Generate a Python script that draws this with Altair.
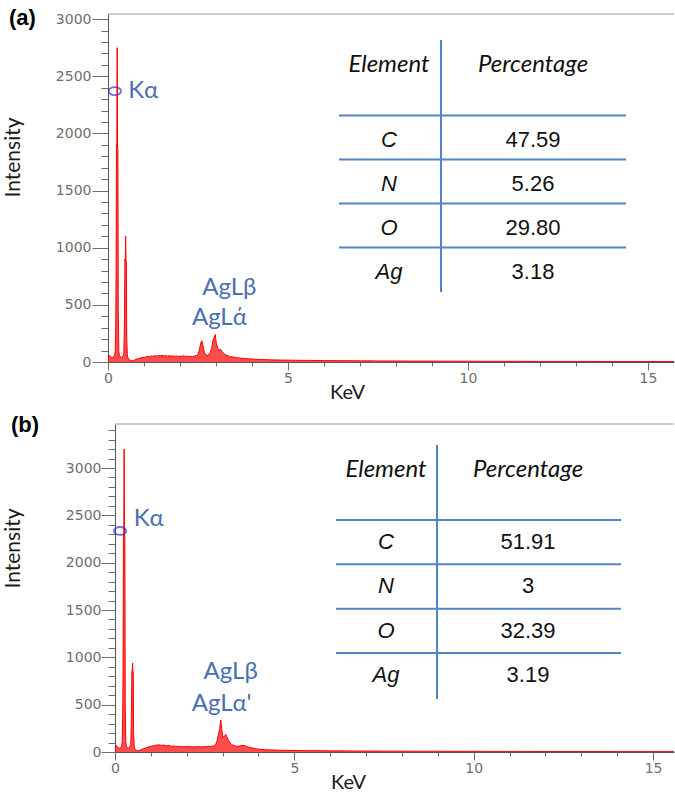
import altair as alt
import pandas as pd

# ---------------- data ----------------
energy_kev = [0.00, 0.03, 0.06, 0.09, 0.12, 0.15, 0.18, 0.20, 0.215, 0.225, 0.235, 0.245, 0.255, 0.265,
              0.275, 0.285, 0.30, 0.32, 0.35, 0.38, 0.41, 0.44, 0.455, 0.47, 0.48, 0.49, 0.50, 0.51, 0.52,
              0.535, 0.55, 0.58, 0.62, 0.66, 0.70, 0.75, 0.80, 0.85, 0.90, 0.95, 1.00, 1.05, 1.10, 1.15,
              1.20, 1.25, 1.30, 1.35, 1.40, 1.45, 1.50, 1.55, 1.60, 1.65, 1.70, 1.75, 1.80, 1.85, 1.90,
              1.95, 2.00, 2.05, 2.10, 2.15, 2.20, 2.25, 2.30, 2.35, 2.40, 2.45, 2.50, 2.54, 2.58, 2.61,
              2.64, 2.68, 2.72, 2.76, 2.80, 2.84, 2.88, 2.92, 2.95, 2.98, 3.01, 3.05, 3.09, 3.13, 3.17,
              3.21, 3.25, 3.30, 3.35, 3.40, 3.45, 3.50, 3.55, 3.60, 3.65, 3.70, 3.80, 3.90, 4.00, 4.10,
              4.20, 4.35, 4.50, 4.65, 4.80, 5.00, 5.20, 5.40, 5.60, 5.80, 6.00, 6.25, 6.50, 6.75, 7.00,
              7.25, 7.50, 7.75, 8.00, 8.25, 8.50, 8.75, 9.00, 9.25, 9.50, 9.75, 10.00, 10.50, 11.00,
              11.50, 12.00, 12.50, 13.00, 13.50, 14.00, 14.50, 15.00, 15.50, 15.80]

counts_a = [35, 60, 50, 42, 38, 45, 55, 90, 320, 800, 1900, 1880, 2750, 1900,
            1850, 450, 90, 55, 45, 40, 50, 70, 330, 900, 880, 1100, 900, 870, 220,
            70, 40, 22, 14, 10, 12, 18, 26, 30, 35, 40, 38, 44, 48, 45,
            52, 50, 55, 52, 57, 54, 58, 53, 56, 51, 55, 50, 54, 49, 53,
            48, 52, 50, 55, 49, 51, 47, 50, 46, 52, 55, 65, 110, 170, 185,
            140, 80, 62, 58, 65, 80, 120, 200, 215, 240, 160, 120, 105, 110, 90,
            75, 65, 58, 52, 48, 45, 42, 40, 37, 35, 33, 30, 28, 26, 24,
            22, 21, 19, 18, 17, 16, 15, 14, 14, 13, 12, 12, 11, 11, 10,
            10, 9, 9, 9, 8, 8, 8, 8, 7, 7, 7, 7, 6, 6,
            6, 5, 5, 5, 5, 4, 4, 4, 4, 4]

counts_b = [35, 70, 55, 45, 40, 48, 60, 100, 370, 880, 2300, 2280, 3200, 2300,
            2250, 500, 110, 60, 45, 40, 55, 80, 300, 850, 840, 940, 850, 830, 190,
            60, 35, 20, 15, 14, 20, 28, 35, 42, 50, 55, 60, 64, 68, 72,
            76, 73, 70, 74, 68, 66, 70, 63, 60, 64, 58, 62, 56, 60, 54,
            58, 55, 60, 53, 57, 52, 56, 54, 58, 52, 56, 55, 60, 57, 62,
            58, 60, 64, 62, 75, 110, 180, 250, 338, 230, 150, 170, 185, 150, 120,
            95, 80, 70, 64, 60, 62, 66, 70, 68, 62, 55, 45, 36, 30, 27,
            24, 22, 20, 18, 17, 16, 15, 14, 14, 13, 12, 12, 11, 11, 10,
            10, 9, 9, 9, 8, 8, 8, 8, 7, 7, 7, 7, 6, 6,
            6, 5, 5, 5, 5, 4, 4, 4, 4, 4]

elements = ["C", "N", "O", "Ag"]
percent_a = ["47.59", "5.26", "29.80", "3.18"]
percent_b = ["51.91", "3", "32.39", "3.19"]
table_headers = ["Element", "Percentage"]

peak_names_a = ["Kα", "AgLβ", "AgLά"]
peak_kev_a = [0.56, 2.62, 2.33]
peak_int_a = [2370, 647, 385]
peak_names_b = ["Kα", "AgLβ", "AgLα'"]
peak_kev_b = [0.52, 2.47, 2.14]
peak_int_b = [2461, 845, 507]
marker_kev_a, marker_int_a = [0.19], [2370]
marker_kev_b, marker_int_b = [0.14], [2335]

x_ticks = list(range(0, 16))
y_ticks_a = list(range(0, 3001, 100))
y_ticks_b = list(range(0, 3401, 100))

# ---------------- style ----------------
RED = "#ff0000"
BLUE_TXT = "#4a6fb3"
TABLE_BLUE = "#4f86c6"
GRAY = "#6e6e6e"
ELLIPSE = "#3a2fcf"
ELLIPSE_PATH = "M-1,0A1,0.65 0 1,0 1,0A1,0.65 0 1,0 -1,0Z"


def panel(counts, p):
    spec_df = pd.DataFrame({"E": energy_kev, "I": counts})
    W, H = p["W"], p["H"]
    xs = alt.Scale(domain=[0, p["xmax"]], range=[p["shift"], W], nice=False, zero=False)
    ys = alt.Scale(domain=[0, p["ymax"]], nice=False)

    ymaj = p["ymajor"]
    x_axis = alt.Axis(values=x_ticks, labelExpr="datum.value % 5 === 0 ? datum.label : ''",
                      format="d", labelOverlap=False, labelFlush=False,
                      tickSize={"expr": "datum.value % 5 === 0 ? 8 : 4"},
                      labelFont="DejaVu Sans", labelFontSize=14, labelColor=GRAY, labelPadding=1,
                      tickColor=GRAY, domainColor="#555555", grid=False,
                      title="KeV", titleFont="Lato", titleFontSize=20, titleFontWeight="normal",
                      titleColor="#1a1a1a", titleX=p["xtx"], titleY=20, titleBaseline="top")
    y_axis = alt.Axis(values=p["yticks"], labelExpr="datum.value % 500 === 0 ? datum.label : ''",
                      format="d", labelOverlap=False, labelFlush=False,
                      tickSize={"expr": f"datum.value % 500 === 0 ? {ymaj} : 7"},
                      labelFont="DejaVu Sans", labelFontSize=14, labelColor=GRAY, labelPadding=p["lpad"],
                      tickColor=GRAY, domainColor="#555555", grid=False, offset=-p["shift"],
                      title="Intensity", titleFont="Lato", titleFontSize=21, titleFontWeight="normal",
                      titleColor="#1a1a1a", titleX=p["ytx"], titleY=p["yty"], titleBaseline="bottom")

    X = alt.X("E:Q", scale=xs, axis=x_axis, title="KeV")
    Y = alt.Y("I:Q", scale=ys, axis=y_axis, title="Intensity")

    area = alt.Chart(spec_df).mark_area(color=RED, clip=True, interpolate="linear",
                                        line={"color": RED, "strokeWidth": 1}).encode(x=X, y=Y)
    lab_df = pd.DataFrame({"E": p["pk_x"], "I": p["pk_y"], "t": p["names"]})
    labels = alt.Chart(lab_df).mark_text(font="Lato", fontSize=24, color=BLUE_TXT, align="left",
                                         baseline="middle").encode(x=X, y=Y, text="t:N")
    mk_df = pd.DataFrame({"E": p["mk_x"], "I": p["mk_y"]})
    marker = alt.Chart(mk_df).mark_point(shape=ELLIPSE_PATH, size=150, filled=False, color=ELLIPSE,
                                         strokeWidth=1.8).encode(x=X, y=Y)
    top_df = pd.DataFrame({"k": [0]})
    top_rule = alt.Chart(top_df).mark_rule(color="#9a9a9a", strokeWidth=1.2).encode(
        x=alt.value(p["shift"]), x2=alt.value(W), y=alt.value(0))
    tag_df = pd.DataFrame({"tag": [p["tag"]]})
    tag = alt.Chart(tag_df).mark_text(font="Liberation Sans", fontWeight="bold", fontSize=22,
                                      align="left", baseline="middle", color="black").encode(
        x=alt.value(p["tag_x"]), y=alt.value(p["tag_y"]), text="tag:N")

    plot = alt.layer(area, labels, marker, top_rule, tag)

    # table inset
    t = p["tbl"]
    tbl_df = pd.DataFrame({"row": list(range(len(elements))), "el": elements, "pct": p["pct"]})
    rs = alt.Scale(domain=[0, len(elements) - 1], range=[t["r0"], t["r3"]])
    RY = alt.Y("row:Q", scale=rs, axis=None)
    el_txt = alt.Chart(tbl_df).mark_text(font="Liberation Sans", fontStyle="italic", fontSize=22,
                                         color="#111111", baseline="middle").encode(
        x=alt.value(t["ex"]), y=RY, text="el:N")
    pct_txt = alt.Chart(tbl_df).mark_text(font="Liberation Sans", fontSize=22, color="#111111",
                                          baseline="middle").encode(
        x=alt.value(t["px"]), y=RY, text="pct:N")
    hlines = alt.Chart(tbl_df).mark_rule(color=TABLE_BLUE, strokeWidth=2, yOffset=t["loff"]).encode(
        x=alt.value(t["lx0"]), x2=alt.value(t["lx1"]), y=RY)
    vline = alt.Chart(top_df).mark_rule(color=TABLE_BLUE, strokeWidth=2).encode(
        x=alt.value(t["vx"]), y=alt.value(t["vy0"]), y2=alt.value(t["vy1"]))
    hdr_df = pd.DataFrame({"col": [0, 1], "h": table_headers})
    hdr = alt.Chart(hdr_df).mark_text(font="Lato", fontStyle="italic", fontSize=24, color="#111111",
                                      baseline="middle").encode(
        x=alt.X("col:Q", scale=alt.Scale(domain=[0, 1], range=[t["ex"], t["px"]]), axis=None),
        y=alt.value(t["hy"]), text="h:N")
    table = alt.layer(hlines, vline, el_txt, pct_txt, hdr)

    return alt.layer(plot, table).resolve_scale(x="independent", y="independent").properties(
        width=W, height=H)


pa = dict(W=566, H=348, shift=0, xmax=566 / 36.0, ymax=3045, yticks=y_ticks_a, ymajor=16, lpad=1,
          xtx=239, ytx=-85, yty=143, tag="(a)", tag_x=-99, tag_y=4,
          names=peak_names_a, pk_x=peak_kev_a, pk_y=peak_int_a, mk_x=marker_kev_a, mk_y=marker_int_a,
          pct=percent_a,
          tbl=dict(r0=126, r3=258, loff=-24.5, ex=281, px=425, lx0=231, lx1=518, vx=333, vy0=26,
                   vy1=278, hy=51))
pb = dict(W=566, H=328, shift=7, xmax=559 / 35.87, ymax=3465, yticks=y_ticks_b, ymajor=14, lpad=0,
          xtx=240, ytx=-92, yty=124, tag="(b)", tag_x=-97, tag_y=1,
          names=peak_names_b, pk_x=peak_kev_b, pk_y=peak_int_b, mk_x=marker_kev_b, mk_y=marker_int_b,
          pct=percent_b,
          tbl=dict(r0=118, r3=251, loff=-22, ex=278, px=420, lx0=228, lx1=513, vx=329, vy0=21,
                   vy1=275, hy=46))

chart = alt.vconcat(panel(counts_a, pa), panel(counts_b, pb), spacing=12).properties(
    padding={"left": 1, "right": 0, "top": 7, "bottom": 0}, background="white"
).configure_view(stroke=None)

chart.save("out.html", embed_options={"renderer": "svg", "actions": False})
